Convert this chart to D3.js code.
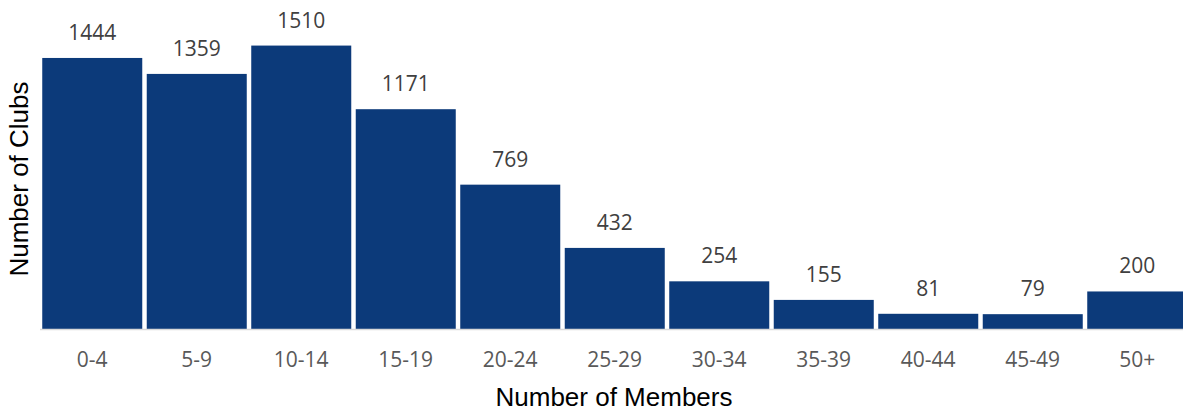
<!DOCTYPE html>
<html>
<head>
<meta charset="utf-8">
<script src="https://cdn.jsdelivr.net/npm/d3@7"></script>
<style>
  body { margin: 0; background: #fff; }
  svg { display: block; }
</style>
</head>
<body>
<svg id="chart" width="1183" height="411"></svg>
<script>
// data
var categories = ['0-4', '5-9', '10-14', '15-19', '20-24', '25-29', '30-34', '35-39', '40-44', '45-49', '50+'];
var clubs = [1444, 1359, 1510, 1171, 769, 432, 254, 155, 81, 79, 200];

var svg = d3.select('#chart');
var baseY = 329;

var x = d3.scaleBand()
    .domain(categories)
    .range([40, 1189.5])
    .paddingInner(0.043)
    .paddingOuter(0.0215);

var y = d3.scaleLinear()
    .domain([0, 1600])
    .range([baseY, baseY - 1600 * 0.1877]);

var rows = categories.map(function(c, i) { return { cat: c, val: clubs[i] }; });

svg.selectAll('rect.bar')
    .data(rows)
    .enter().append('rect')
    .attr('class', 'bar')
    .attr('x', function(d) { return x(d.cat); })
    .attr('y', function(d) { return y(d.val); })
    .attr('width', x.bandwidth())
    .attr('height', function(d) { return baseY - y(d.val); })
    .attr('fill', '#0c3a7a');

// axis line
svg.append('line')
    .attr('x1', 40).attr('x2', 1183)
    .attr('y1', baseY + 0.5).attr('y2', baseY + 0.5)
    .attr('stroke', '#d9d9d9')
    .attr('stroke-width', 1.5);

// value labels
svg.selectAll('text.val')
    .data(rows)
    .enter().append('text')
    .attr('class', 'val')
    .attr('x', function(d) { return x(d.cat) + x.bandwidth() / 2; })
    .attr('y', function(d) { return y(d.val) - 18; })
    .attr('text-anchor', 'middle')
    .style('font-family', '"Open Sans", sans-serif')
    .style('font-size', '21px')
    .style('fill', '#404040')
    .text(function(d) { return d.val; });

// category ticks
svg.selectAll('text.tick')
    .data(categories)
    .enter().append('text')
    .attr('class', 'tick')
    .attr('x', function(d) { return x(d) + x.bandwidth() / 2; })
    .attr('y', baseY + 38)
    .attr('text-anchor', 'middle')
    .style('font-family', '"Open Sans", sans-serif')
    .style('font-size', '21px')
    .style('fill', '#595959')
    .text(function(d) { return d; });

// axis titles
svg.append('text')
    .attr('x', 614)
    .attr('y', 406)
    .attr('text-anchor', 'middle')
    .style('font-family', '"Liberation Sans", Arial, sans-serif')
    .style('font-size', '26px')
    .style('fill', '#000')
    .text('Number of Members');

svg.append('text')
    .attr('transform', 'translate(28,179) rotate(-90)')
    .attr('text-anchor', 'middle')
    .style('font-family', '"Liberation Sans", Arial, sans-serif')
    .style('font-size', '26px')
    .style('fill', '#000')
    .text('Number of Clubs');
</script>
</body>
</html>
